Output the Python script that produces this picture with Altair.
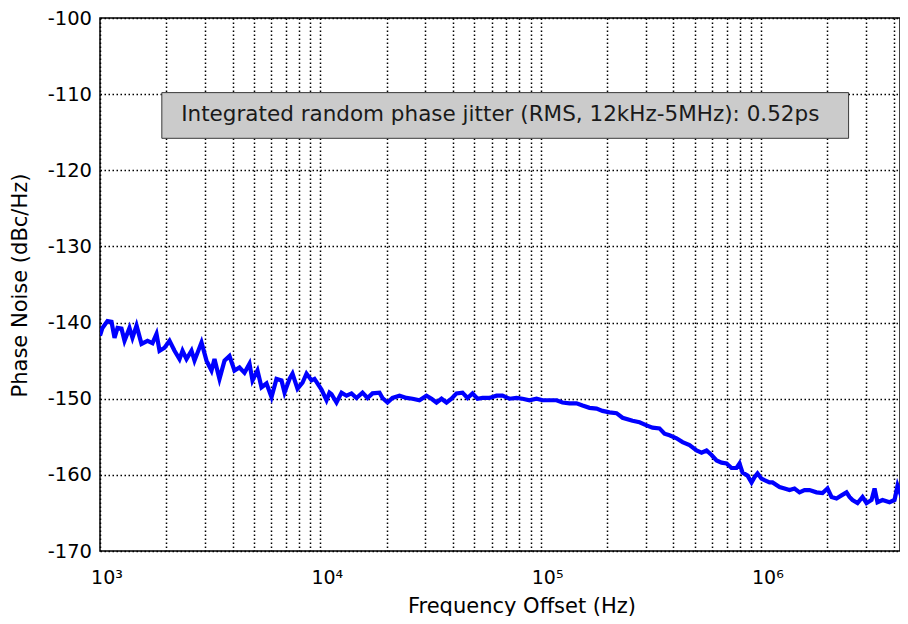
import altair as alt
import pandas as pd

# Frequency offset (Hz) and phase noise (dBc/Hz)
freq_hz = [
    1000, 1026, 1081, 1128, 1164, 1201, 1252, 1292, 1361, 1404, 1465, 1543, 1643, 1731, 1805,
    1863, 1963, 2068, 2179, 2296, 2369, 2470, 2602, 2685, 2889, 3044, 3207, 3309, 3486, 3674,
    3870, 4078, 4297, 4528, 4771, 4922, 5186, 5409, 5699, 6005, 6326, 6667, 6879, 7248, 7479,
    7880, 8302, 8658, 9123, 9412, 10125, 10669, 11008, 11240, 11846, 12484, 13152, 13857, 14600,
    15544, 16379, 17259, 18566, 19155, 20184, 21267, 22880, 24616, 26210, 28196, 30337, 31972,
    33688, 35496, 37403, 39405, 41520, 44200, 46580, 49080, 51710, 54500, 58630, 63080, 67160,
    72260, 77730, 82760, 89050, 95810, 102000, 109750, 118100, 125700, 135300, 145500, 155000,
    166700, 179400, 191000, 205500, 221100, 235400, 261400, 281200, 302500, 322100, 346500,
    365100, 384700, 414000, 440800, 474300, 510300, 537700, 566500, 596900, 628900, 662600,
    698100, 735600, 774800, 799800, 825200, 869500, 906600, 935400, 965100, 1006000, 1038000,
    1094000, 1129000, 1215000, 1280000, 1349000, 1421000, 1497000, 1577000, 1662000, 1788000,
    1904000, 2006000, 2092000, 2204000, 2322000, 2447000, 2524000, 2605000, 2745000, 2892000,
    3016000, 3178000, 3280000, 3382000, 3565000, 3835000, 4042000, 4171000, 4350000, 4581000,
]
phase_noise_dbc = [
    -141.7, -140.7, -139.8, -139.9, -142.0, -140.7, -140.8, -142.4, -140.7, -142.0, -140.4, -142.8,
    -142.4, -142.7, -141.5, -143.7, -143.3, -142.4, -143.7, -144.8, -143.7, -144.8, -143.7, -145.0,
    -142.6, -145.0, -146.3, -144.8, -147.4, -145.0, -144.4, -146.3, -145.9, -146.6, -145.4, -147.6,
    -146.3, -148.5, -148.0, -149.8, -147.4, -147.6, -149.2, -147.4, -146.7, -148.7, -147.9, -146.7,
    -147.6, -147.4, -148.8, -150.2, -149.2, -149.4, -150.5, -149.2, -149.6, -149.3, -149.9, -149.2,
    -149.9, -149.3, -149.2, -149.9, -150.5, -149.9, -149.6, -149.9, -150.0, -150.2, -149.6, -150.0,
    -150.5, -150.0, -150.5, -150.0, -149.3, -149.2, -149.9, -149.3, -150.0, -149.9, -149.9, -149.6,
    -149.6, -150.0, -149.9, -150.0, -150.2, -150.0, -150.2, -150.2, -150.2, -150.5, -150.6, -150.6,
    -150.9, -151.2, -151.3, -151.6, -151.8, -151.9, -152.5, -152.9, -153.1, -153.5, -153.8, -153.9,
    -154.6, -154.8, -155.2, -155.7, -156.1, -156.8, -157.1, -156.8, -157.4, -158.1, -158.4, -158.5,
    -159.1, -159.1, -158.5, -159.7, -160.1, -161.0, -160.3, -159.8, -160.5, -160.7, -161.0, -161.0,
    -161.6, -161.8, -162.0, -161.8, -162.3, -162.0, -162.0, -162.3, -162.4, -161.8, -162.9, -163.1,
    -162.7, -162.3, -162.9, -163.3, -163.7, -162.9, -163.7, -163.3, -161.8, -163.6, -163.3, -163.6,
    -163.3, -161.4, -162.9, -163.7,
]

# Axis ticks / grid
y_ticks = [-170, -160, -150, -140, -130, -120, -110, -100]
x_grid = [m * 10 ** e for e in range(3, 7) for m in range(1, 10) if m * 10 ** e <= 4.2e6]
x_domain = [1000, 4279000]
y_domain = [-170, -100]

# Annotation box (data coordinates)
note_text = ["Integrated random phase jitter (RMS, 12kHz-5MHz): 0.52ps"]
note_box_x = [1908]
note_box_x2 = [2500000]
note_box_y = [-109.8]
note_box_y2 = [-115.8]
note_text_x = [2337]
note_text_y = [-113.52]

FONT = "DejaVu Sans"

df = pd.DataFrame({"freq": freq_hz, "pn": phase_noise_dbc})
box_df = pd.DataFrame({"x": note_box_x, "x2": note_box_x2, "y": note_box_y, "y2": note_box_y2})
txt_df = pd.DataFrame({"x": note_text_x, "y": note_text_y, "t": note_text})

label_expr = (
    "datum.value == 1000 ? '10\u00b3' : datum.value == 10000 ? '10\u2074' : "
    "datum.value == 100000 ? '10\u2075' : datum.value == 1000000 ? '10\u2076' : ''"
)

x_scale = alt.Scale(type="log", domain=x_domain, nice=False)
y_scale = alt.Scale(domain=y_domain, nice=False, zero=False)

GRID = dict(grid=True, gridColor="black", gridDash=[1.5, 2.5], gridWidth=1.5, gridOpacity=1)

x_axis = alt.Axis(
    values=x_grid, labelExpr=label_expr, title="Frequency Offset (Hz)",
    ticks=False, tickSize=0, domain=False,
    labelFont=FONT, labelFontSize=19, labelColor="black", labelBaseline="alphabetic",
    labelPadding=32, labelOffset=6.5, labelFlush=False, labelOverlap=False,
    titleFont=FONT, titleFontSize=21, titleFontWeight="normal", titleColor="black",
    titleX=421.5, titleY=61, titleBaseline="alphabetic", titleAlign="center",
    **GRID,
)
y_axis = alt.Axis(
    values=y_ticks, title="Phase Noise (dBc/Hz)", labelExpr="'' + datum.value",
    ticks=False, tickSize=0, domain=False,
    labelFont=FONT, labelFontSize=19.5, labelColor="black", labelPadding=8.5,
    labelBaseline="middle", labelFlush=False, labelOverlap=False,
    titleFont=FONT, titleFontSize=21, titleFontWeight="normal", titleColor="black",
    titleX=-80, titleY=267, titleBaseline="middle", titleAlign="center",
    **GRID,
)

line = alt.Chart(df).mark_line(color="#0000ff", strokeWidth=4.2, clip=True).encode(
    x=alt.X("freq:Q", scale=x_scale, axis=x_axis),
    y=alt.Y("pn:Q", scale=y_scale, axis=y_axis),
)

box = alt.Chart(box_df).mark_rect(fill="#cbcbcb", stroke="#3a3a3a", strokeWidth=1).encode(
    x=alt.X("x:Q", scale=x_scale),
    x2="x2:Q",
    y=alt.Y("y:Q", scale=y_scale),
    y2="y2:Q",
)

txt = alt.Chart(txt_df).mark_text(
    font=FONT, fontSize=21.5, color="#1a1a1a", align="left", baseline="alphabetic"
).encode(
    x=alt.X("x:Q", scale=x_scale),
    y=alt.Y("y:Q", scale=y_scale),
    text="t:N",
)

chart = alt.layer(box, line, txt).properties(
    width=800,
    height=533,
    padding={"left": 92, "top": 10, "right": 0, "bottom": 65},
    autosize=alt.AutoSizeParams(type="none"),
    background="white",
).configure_view(stroke="black", strokeWidth=1.5)

chart.save("out.html", embed_options={"renderer": "svg", "actions": False})
